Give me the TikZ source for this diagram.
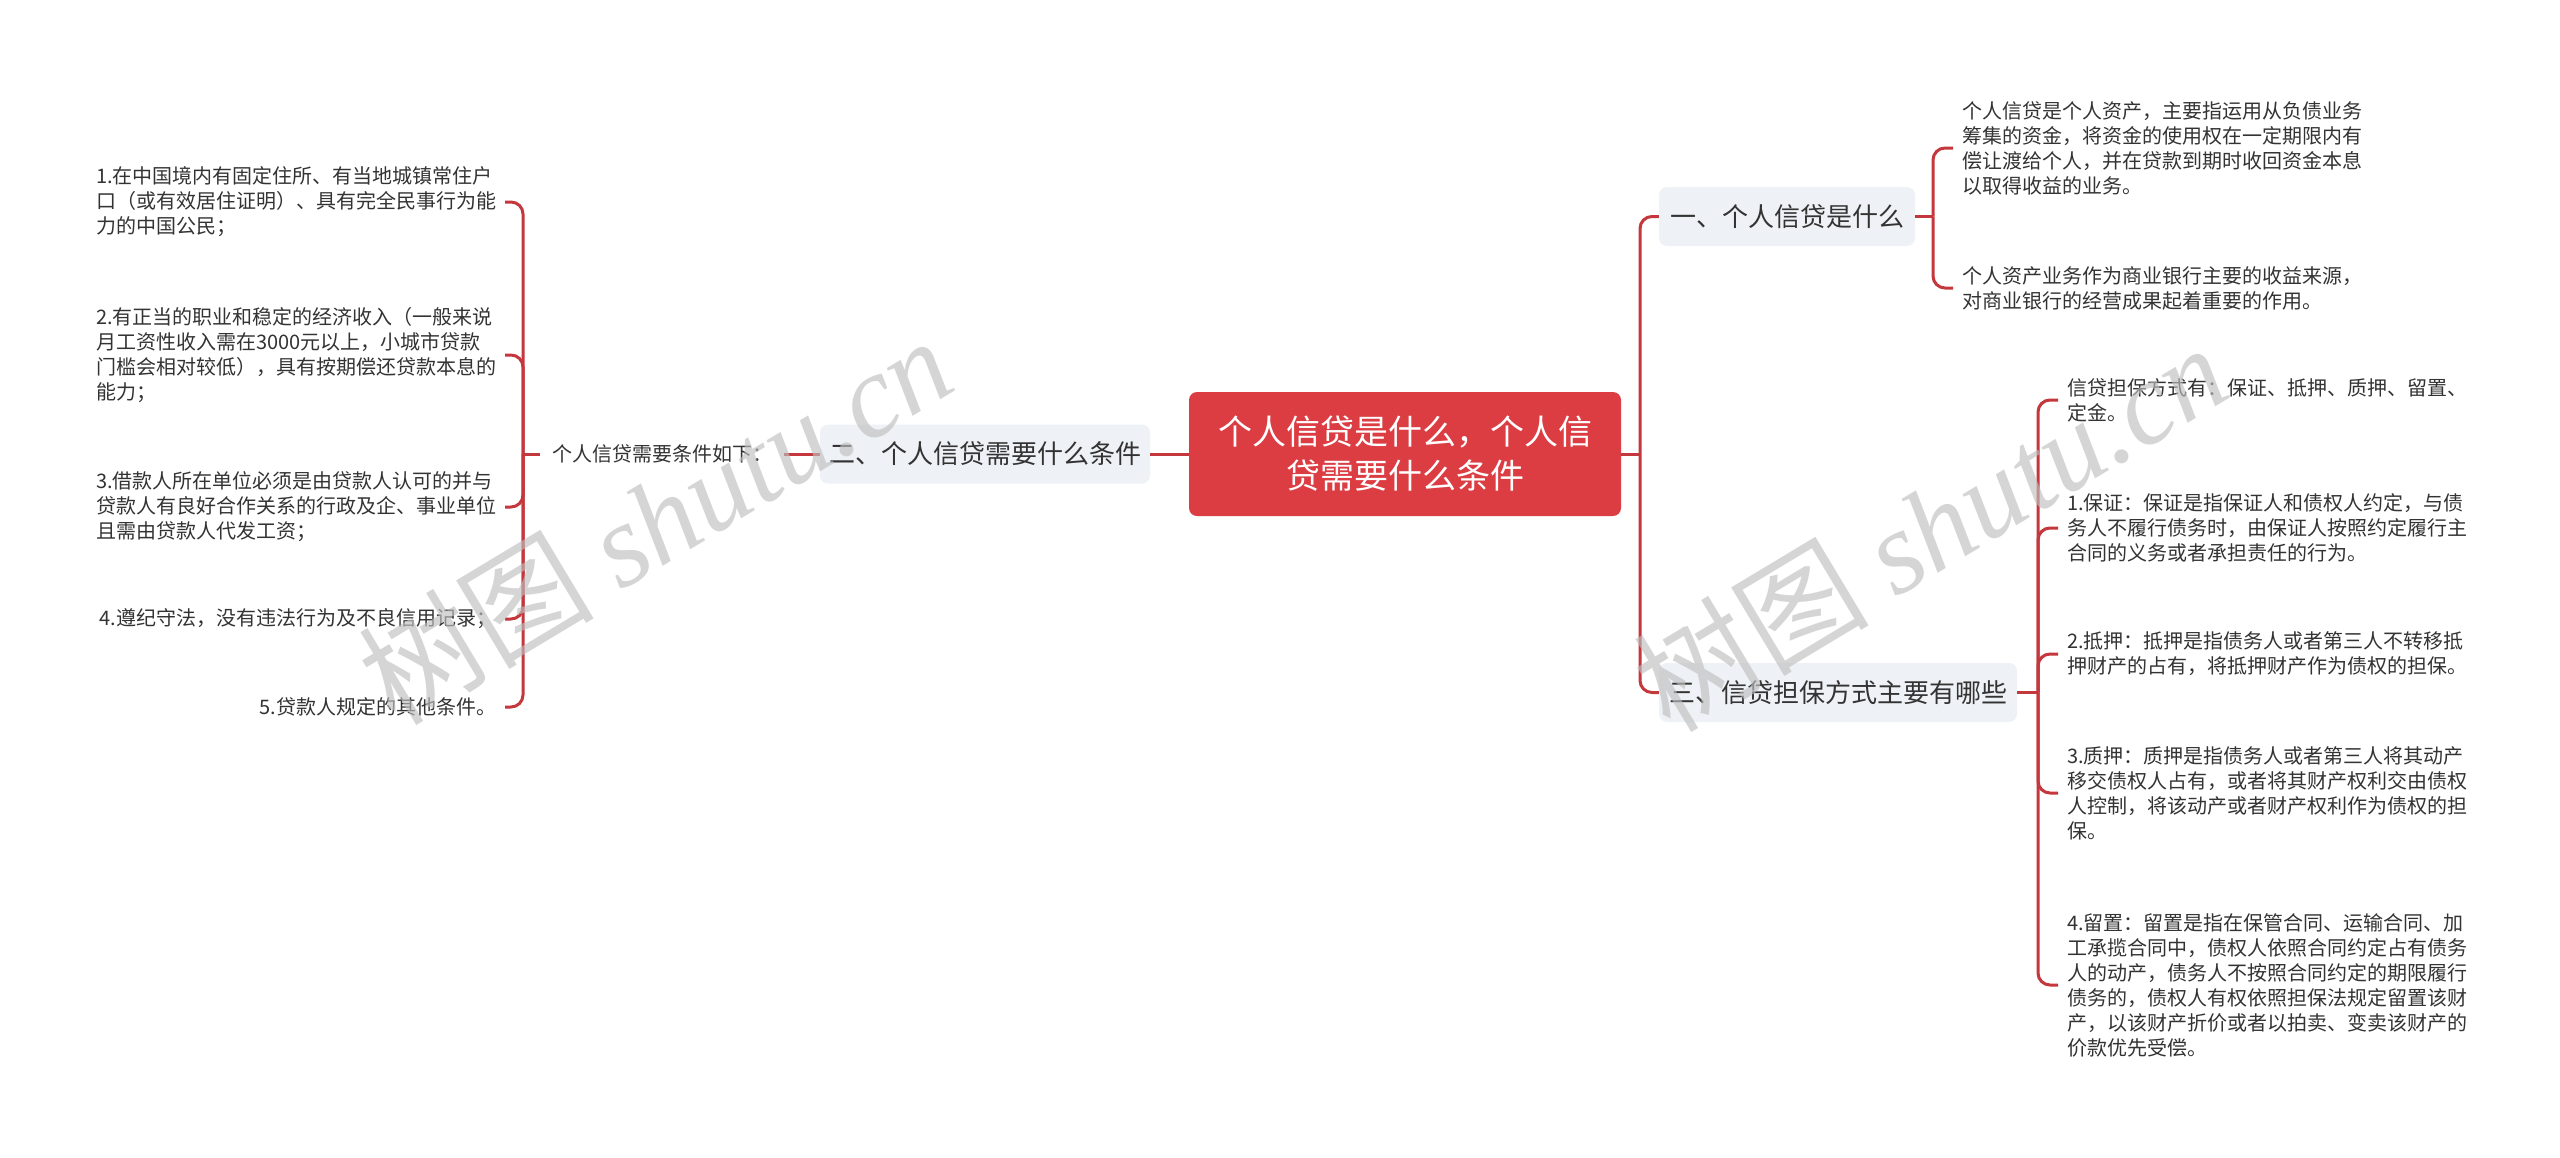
\documentclass[tikz,border=0pt]{standalone}
\usepackage{fontspec}
\setmainfont{Noto Sans CJK SC}
\newfontfamily\wmlatin{Liberation Serif}
\definecolor{linered}{HTML}{C4373D}
\definecolor{rootred}{HTML}{DC3D43}
\definecolor{subfill}{HTML}{EEF1F5}
\definecolor{txt}{HTML}{333333}
\begin{document}
\begin{tikzpicture}[x=1pt,y=-1pt,
  link/.style={draw=linered,line width=3pt},
  elbow/.style={link,rounded corners=12pt},
  rootbox/.style={fill=rootred,rounded corners=8pt,text=white,font=\fontsize{34}{44}\selectfont,align=center,minimum width=432pt,minimum height=124pt,inner sep=0pt},
  subbox/.style={fill=subfill,rounded corners=8pt,text=txt,font=\fontsize{26}{32}\selectfont,minimum height=59pt,inner sep=0pt},
  leaf/.style={text=txt,font=\fontsize{20}{25}\selectfont,align=left,inner sep=0pt,outer xsep=9pt},
  labelnode/.style={text=txt,font=\fontsize{20}{25}\selectfont,inner xsep=12pt,inner ysep=0pt},
  wm/.style={text=black!25,opacity=0.65,rotate=31,font=\fontsize{118}{120}\selectfont}
]
\fill[white] (0,0) rectangle (2560,1157);
\useasboundingbox (0,0) rectangle (2560,1157);

% root and main branches
\node[rootbox] (root) at (1405,454) {个人信贷是什么，个人信\\贷需要什么条件};
\node[subbox,minimum width=330pt] (s2) at (985,454) {二、个人信贷需要什么条件};
\node[labelnode,anchor=west] (cond) at (540,454) {个人信贷需要条件如下：};
\node[subbox,minimum width=256pt] (s1) at (1787,216.5) {一、个人信贷是什么};
\node[subbox,minimum width=358pt] (s3) at (1838,692.5) {三、信贷担保方式主要有哪些};

% left leaves
\node[leaf,anchor=east] (L1) at (505,202) {1.在中国境内有固定住所、有当地城镇常住户\\口（或有效居住证明）、具有完全民事行为能\\力的中国公民；};
\node[leaf,anchor=east] (L2) at (505,355) {2.有正当的职业和稳定的经济收入（一般来说\\月工资性收入需在3000元以上，小城市贷款\\门槛会相对较低），具有按期偿还贷款本息的\\能力；};
\node[leaf,anchor=east] (L3) at (505,507) {3.借款人所在单位必须是由贷款人认可的并与\\贷款人有良好合作关系的行政及企、事业单位\\且需由贷款人代发工资；};
\node[leaf,anchor=east] (L4) at (505,619) {4.遵纪守法，没有违法行为及不良信用记录；};
\node[leaf,anchor=east] (L5) at (505,707) {5.贷款人规定的其他条件。};

% right leaves of s1
\node[leaf,anchor=west] (R1a) at (1953,148) {个人信贷是个人资产，主要指运用从负债业务\\筹集的资金，将资金的使用权在一定期限内有\\偿让渡给个人，并在贷款到期时收回资金本息\\以取得收益的业务。};
\node[leaf,anchor=west] (R1b) at (1953,288) {个人资产业务作为商业银行主要的收益来源，\\对商业银行的经营成果起着重要的作用。};

% right leaves of s3
\node[leaf,anchor=west] (R3a) at (2058,400) {信贷担保方式有：保证、抵押、质押、留置、\\定金。};
\node[leaf,anchor=west] (R3b) at (2058,528) {1.保证：保证是指保证人和债权人约定，与债\\务人不履行债务时，由保证人按照约定履行主\\合同的义务或者承担责任的行为。};
\node[leaf,anchor=west] (R3c) at (2058,654) {2.抵押：抵押是指债务人或者第三人不转移抵\\押财产的占有，将抵押财产作为债权的担保。};
\node[leaf,anchor=west] (R3d) at (2058,793) {3.质押：质押是指债务人或者第三人将其动产\\移交债权人占有，或者将其财产权利交由债权\\人控制，将该动产或者财产权利作为债权的担\\保。};
\node[leaf,anchor=west] (R3e) at (2058,985) {4.留置：留置是指在保管合同、运输合同、加\\工承揽合同中，债权人依照合同约定占有债务\\人的动产，债务人不按照合同约定的期限履行\\债务的，债权人有权依照担保法规定留置该财\\产，以该财产折价或者以拍卖、变卖该财产的\\价款优先受偿。};

% junction points
\coordinate (lb) at (523,454);
\coordinate (rb) at (1640,454);
\coordinate (rb1) at (1933,216.5);
\coordinate (rb3) at (2038,692.5);

% connectors
\draw[link] (s2.east) -- (root.west);
\draw[link] (cond.east) -- (s2.west);
\draw[link] (cond.west) -- (lb);
\foreach \n in {L1,L2,L3,L4,L5} \draw[elbow] (lb) |- (\n.east);
\draw[link] (root.east) -- (rb);
\draw[elbow] (rb) |- (s1.west);
\draw[elbow] (rb) |- (s3.west);
\draw[link] (s1.east) -- (rb1);
\foreach \n in {R1a,R1b} \draw[elbow] (rb1) |- (\n.west);
\draw[link] (s3.east) -- (rb3);
\foreach \n in {R3a,R3b,R3c,R3d,R3e} \draw[elbow] (rb3) |- (\n.west);

% watermarks
\node[wm] (wm1) at (655,519) {树图 {\wmlatin\itshape shutu.cn}};
\node[wm] (wm2) at (1930,526) {树图 {\wmlatin\itshape shutu.cn}};
\end{tikzpicture}
\end{document}
